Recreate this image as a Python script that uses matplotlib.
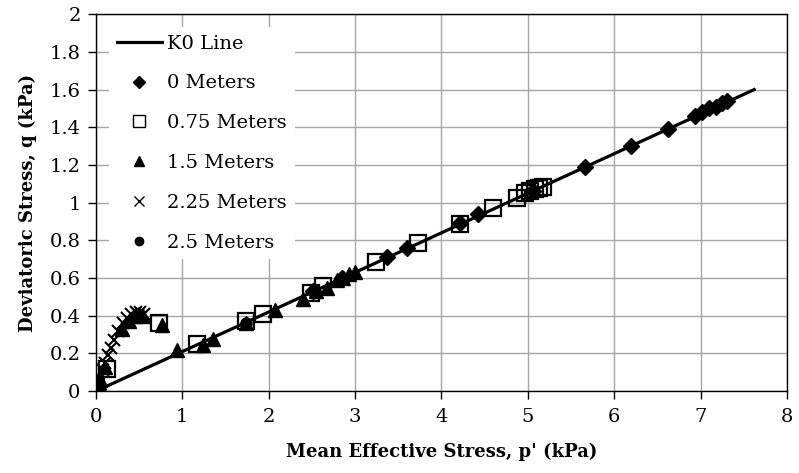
import matplotlib
matplotlib.use("Agg")
import matplotlib.pyplot as plt

plt.rcParams['font.family'] = ['DejaVu Serif']

# K0 line end points
k0_p = [0.0, 7.62]
k0_q = [0.0, 1.60]

# 0 m depth
p_0m = [0.0, 0.02, 2.51, 2.85, 3.37, 3.60, 4.21, 4.42, 5.06, 5.66, 6.19, 6.62, 6.93, 7.02, 7.10, 7.18, 7.25, 7.30]
q_0m = [0.0, 0.01, 0.53, 0.60, 0.71, 0.76, 0.89, 0.94, 1.06, 1.19, 1.30, 1.39, 1.46, 1.48, 1.50, 1.51, 1.53, 1.54]

# 0.75 m depth
p_075 = [0.0, 0.13, 0.73, 1.17, 1.74, 1.93, 2.49, 2.63, 3.24, 3.73, 4.21, 4.60, 4.87, 4.97, 5.03, 5.08, 5.13, 5.18]
q_075 = [0.02, 0.12, 0.36, 0.25, 0.37, 0.41, 0.52, 0.557, 0.684, 0.785, 0.886, 0.97, 1.025, 1.05, 1.06, 1.075, 1.08, 1.085]

# 1.5 m depth
p_15 = [0.02, 0.05, 0.10, 0.30, 0.38, 0.45, 0.50, 0.55, 0.76, 0.94, 1.24, 1.36, 1.74, 2.07, 2.40, 2.55, 2.67, 2.79, 2.86, 2.93, 3.00]
q_15 = [0.02, 0.06, 0.13, 0.33, 0.37, 0.40, 0.41, 0.40, 0.35, 0.22, 0.245, 0.275, 0.36, 0.43, 0.49, 0.53, 0.55, 0.59, 0.60, 0.62, 0.63]

# 2.25 m depth
p_225 = [0.02, 0.05, 0.08, 0.11, 0.14, 0.17, 0.21, 0.26, 0.31, 0.36, 0.41, 0.46, 0.51, 0.56]
q_225 = [0.03, 0.07, 0.11, 0.15, 0.19, 0.23, 0.27, 0.32, 0.36, 0.39, 0.41, 0.42, 0.42, 0.41]

# 2.5 m depth
p_25 = [0.0, 0.0, 0.005, 0.01, 0.02, 0.03, 0.04, 0.50, 1.74]
q_25 = [0.0, 0.005, 0.01, 0.02, 0.04, 0.06, 0.02, 0.40, 0.36]

x_ticks = [0, 1, 2, 3, 4, 5, 6, 7, 8]
y_ticks = [0, 0.2, 0.4, 0.6, 0.8, 1, 1.2, 1.4, 1.6, 1.8, 2]
y_tick_labels = ['0', '0.2', '0.4', '0.6', '0.8', '1', '1.2', '1.4', '1.6', '1.8', '2']

fig = plt.figure(figsize=(7.99, 4.73), dpi=100)
ax = fig.add_axes([0.120, 0.173, 0.865, 0.797])

ax.plot(k0_p, k0_q, color='black', lw=2.3, label='K0 Line', zorder=3)
ax.plot(p_0m, q_0m, linestyle='none', marker='D', ms=8, color='black', label='0 Meters', zorder=4)
ax.plot(p_075, q_075, linestyle='none', marker='s', ms=12, mfc='none', mec='black', mew=1.6,
        label='0.75 Meters', zorder=4)
ax.plot(p_15, q_15, linestyle='none', marker='^', ms=10, color='black', label='1.5 Meters', zorder=4)
ax.plot(p_225, q_225, linestyle='none', marker='x', ms=9, mew=1.5, color='black',
        label='2.25 Meters', zorder=4)
ax.plot(p_25, q_25, linestyle='none', marker='o', ms=8, color='black', label='2.5 Meters', zorder=4)

ax.set_xlim(0, 8)
ax.set_ylim(0, 2)
ax.set_xticks(x_ticks)
ax.set_yticks(y_ticks)
ax.set_yticklabels(y_tick_labels)
ax.grid(True, color='#a6a6a6', lw=1)
ax.set_axisbelow(True)
ax.tick_params(axis='both', direction='out', length=6, width=1, labelsize=14, colors='black')
ax.tick_params(axis='x', pad=6)
ax.tick_params(axis='y', pad=5)
for s in ax.spines.values():
    s.set_color('black')
    s.set_linewidth(1)

ax.set_xlabel("Mean Effective Stress, p' (kPa)", fontsize=13, fontweight='bold', labelpad=12)
ax.set_ylabel("Deviatoric Stress, q (kPa)", fontsize=13, fontweight='bold', labelpad=9)

leg = ax.legend(loc='upper left', bbox_to_anchor=(0.005, 0.992), frameon=True, fontsize=14,
                handlelength=2.3, handletextpad=0.3, labelspacing=1.12, borderpad=0.4,
                markerscale=0.75)
leg.get_frame().set_facecolor('white')
leg.get_frame().set_edgecolor('none')
leg.get_frame().set_alpha(1)
for h in leg.legend_handles:
    if h.get_marker() == 's':
        h.set_markeredgewidth(1.0)
    if h.get_marker() == 'x':
        h.set_markeredgewidth(1.0)

fig.savefig('out.png', dpi=100)
